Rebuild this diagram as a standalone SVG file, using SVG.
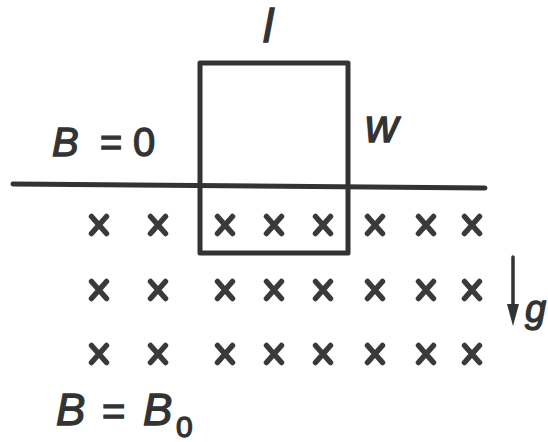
<svg xmlns="http://www.w3.org/2000/svg" width="548" height="442" viewBox="0 0 548 442">
<style>
  .ln { fill: none; stroke: #333; stroke-width: 5; stroke-linecap: round; stroke-linejoin: round; }
  .xm { fill: none; stroke: #3a3a3a; stroke-width: 5.5; stroke-linecap: round; }
  .t { font-family: "Liberation Sans", Arial, sans-serif; fill: #333; stroke: #333; stroke-width: 1.3; }
  .it { font-style: italic; }
</style>
<defs>
  <path id="x" class="xm" d="M-7.5,-8.5 L7.5,8.5 M7.5,-8.5 L-7.5,8.5"/>
</defs>
<rect width="548" height="442" fill="#fff"/>
<g id="boundary">
  <path class="ln" d="M13,184 L485,188"/>
</g>
<g id="loop">
  <rect class="ln" x="200" y="63" width="148" height="190"/>
</g>
<g id="field">
  <use href="#x" x="99" y="225"/><use href="#x" x="158" y="225"/><use href="#x" x="225" y="225"/><use href="#x" x="274" y="225"/><use href="#x" x="323" y="225"/><use href="#x" x="375" y="225"/><use href="#x" x="426" y="225"/><use href="#x" x="472" y="225"/>
  <use href="#x" x="99" y="290"/><use href="#x" x="158" y="290"/><use href="#x" x="225" y="290"/><use href="#x" x="274" y="290"/><use href="#x" x="323" y="290"/><use href="#x" x="375" y="290"/><use href="#x" x="426" y="290"/><use href="#x" x="472" y="290"/>
  <use href="#x" x="99" y="354"/><use href="#x" x="158" y="354"/><use href="#x" x="225" y="354"/><use href="#x" x="274" y="354"/><use href="#x" x="323" y="354"/><use href="#x" x="375" y="354"/><use href="#x" x="426" y="354"/><use href="#x" x="472" y="354"/>
</g>
<g id="gravity">
  <path d="M513,257 L513,310" fill="none" stroke="#333" stroke-width="3.5" stroke-linecap="round"/>
  <polygon points="507,304 519,304 513,326" fill="#333"/>
  <text class="t it" x="525" y="322" font-size="38">g</text>
</g>
<g id="labels">
  <text class="t it" x="263" y="42" font-size="46">l</text>
  <text class="t it" x="365" y="142" font-size="46">w</text>
  <text class="t" y="156" font-size="38"><tspan class="it" x="52" font-size="40">B</tspan><tspan x="100">=</tspan><tspan x="133" font-size="40">0</tspan></text>
  <text class="t" y="425" font-size="44"><tspan class="it" x="56">B</tspan><tspan x="102" font-size="40">=</tspan><tspan class="it" x="143">B</tspan><tspan x="176" y="437" font-size="30">0</tspan></text>
</g>
</svg>
